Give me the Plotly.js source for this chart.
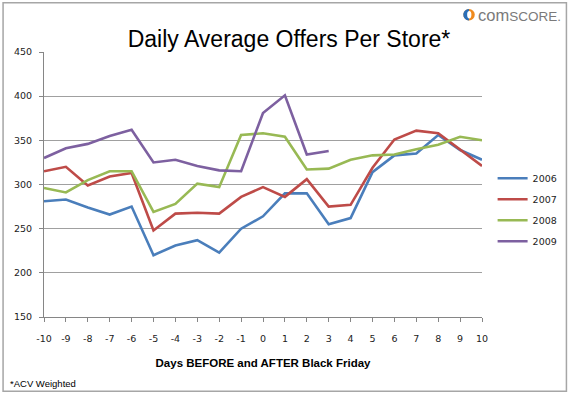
<!DOCTYPE html>
<html>
<head>
<meta charset="utf-8">
<script src="https://cdn.plot.ly/plotly-3.0.1.min.js"></script>
<style>html,body{margin:0;padding:0;background:#fff;}#chart{width:575px;height:397px;}</style>
</head>
<body>
<div id="chart"></div>
<script>
// ---- data ----
const days = [-10,-9,-8,-7,-6,-5,-4,-3,-2,-1,0,1,2,3,4,5,6,7,8,9,10];
const dayLabels = ["-10","-9","-8","-7","-6","-5","-4","-3","-2","-1","0","1","2","3","4","5","6","7","8","9","10"];
const years = ["2006","2007","2008","2009"];
const offers2006 = [281,283,274,266,275,220,231,237,223,250,264,290,290,255,262,314,333,335,356,339,328];
const offers2007 = [315,320,299,309,313,248,267,268,267,286,297,286,306,275,277,319,351,361,358,339,321];
const offers2008 = [296,291,305,315,315,269,278,301,297,356,358,354,317,318,328,333,334,340,345,354,350];
const offers2009 = [330,341,346,355,362,325,328,321,316,315,381,401,334,338];
const yTicks = [150,200,250,300,350,400,450];

const colors = ["#4a7ebb","#be4b48","#98b954","#7d60a0"];
const series = [offers2006, offers2007, offers2008, offers2009];

// ---- layout helpers (pixel -> paper) ----
const W = 575, H = 397;
const L = 44.3, R = 486.3, T = 52.3, B = 317.3;
const px2x = p => (p - L) / (R - L);
const px2y = p => (B - p) / (B - T);

const traces = series.map((vals, i) => ({
  x: days.slice(0, vals.length),
  y: vals,
  name: years[i],
  type: 'scatter',
  mode: 'lines',
  legendgroup: years[i],
  line: {color: colors[i], width: 2.6},
  hoverinfo: 'x+y+name'
}));

const layout = {
  width: W, height: H,
  margin: {l: L, r: W - R, t: T, b: H - B, pad: 0},
  paper_bgcolor: '#fff', plot_bgcolor: '#fff',
  font: {family: 'DejaVu Sans', size: 9.5, color: '#222'},
  title: {
    text: 'Daily Average Offers Per Store*',
    font: {family: 'Liberation Sans, Arial', size: 23, color: '#000'},
    x: 289 / W, xanchor: 'center', xref: 'container',
    y: 1 - 39 / H, yanchor: 'middle', yref: 'container'
  },
  xaxis: {
    range: [-10, 10],
    tickmode: 'array', tickvals: days, ticktext: dayLabels,
    ticks: 'outside', ticklen: 4, tickcolor: '#868686', tickwidth: 1,
    ticklabelstandoff: 9,
    showline: true, linecolor: '#868686', linewidth: 1,
    showgrid: false, zeroline: false,
    tickfont: {family: 'DejaVu Sans', size: 9.5, color: '#222'},
    title: {text: 'Days BEFORE and AFTER Black Friday', standoff: 15,
            font: {family: 'Liberation Sans, Arial', size: 11.5, color: '#000', weight: 'bold'}},
    automargin: false, fixedrange: true
  },
  yaxis: {
    range: [150, 450],
    tickmode: 'array', tickvals: yTicks, ticktext: yTicks.map(String),
    ticks: 'outside', ticklen: 4, tickcolor: '#868686', tickwidth: 1,
    ticklabelstandoff: 5,
    showline: true, linecolor: '#868686', linewidth: 1,
    showgrid: true, gridcolor: '#a0a0a0', gridwidth: 1,
    zeroline: false,
    tickfont: {family: 'DejaVu Sans', size: 9.5, color: '#222'},
    automargin: false, fixedrange: true
  },
  showlegend: true,
  legend: {
    x: px2x(497), xanchor: 'left', xref: 'paper',
    y: px2y(164), yanchor: 'top', yref: 'paper',
    font: {family: 'DejaVu Sans', size: 9.5, color: '#222'},
    bgcolor: 'rgba(0,0,0,0)', borderwidth: 0,
    tracegroupgap: 2, itemwidth: 30
  },
  shapes: [
    // outer chart border
    {type: 'rect', xref: 'paper', yref: 'paper',
     x0: px2x(3), x1: px2x(571.5), y0: px2y(3), y1: px2y(391.5),
     line: {color: '#a6a6a6', width: 1.5}, fillcolor: 'rgba(0,0,0,0)', layer: 'below'},
    // comScore logo mark
    {type: 'circle', xref: 'paper', yref: 'paper',
     x0: px2x(467.5), x1: px2x(479), y0: px2y(9.3), y1: px2y(20.8),
     line: {width: 0}, fillcolor: '#f08a1c'},
    {type: 'path', xref: 'paper', yref: 'paper',
     path: (() => {
       const cx = 473.2, cy = 15, r = 5.75; let d = '';
       for (let k = 0; k <= 12; k++) {
         const a = Math.PI / 2 + Math.PI * k / 12;
         const X = px2x(cx + r * Math.cos(a)), Y = px2y(cy - r * Math.sin(a));
         d += (k === 0 ? 'M' : 'L') + X + ',' + Y + ' ';
       }
       return d + 'Z';
     })(),
     line: {width: 0}, fillcolor: '#2a6fb8'},
    {type: 'circle', xref: 'paper', yref: 'paper',
     x0: px2x(471.3), x1: px2x(475.6), y0: px2y(11.3), y1: px2y(18.7),
     line: {width: 0}, fillcolor: '#ffffff'}
  ],
  annotations: [
    {text: 'com<span style="font-size:13.5px">SCORE.</span>', xref: 'paper', yref: 'paper',
     x: px2x(480), y: px2y(15), xanchor: 'left', yanchor: 'middle', showarrow: false,
     font: {family: 'Liberation Sans, Arial', size: 16.5, color: '#7a7a7a'}},
    {text: '*ACV Weighted', xref: 'paper', yref: 'paper',
     x: px2x(8), y: px2y(384), xanchor: 'left', yanchor: 'middle', showarrow: false,
     font: {family: 'Liberation Sans, Arial', size: 9.5, color: '#000'}}
  ]
};

Plotly.newPlot('chart', traces, layout, {displayModeBar: false, staticPlot: true});
</script>
</body>
</html>
